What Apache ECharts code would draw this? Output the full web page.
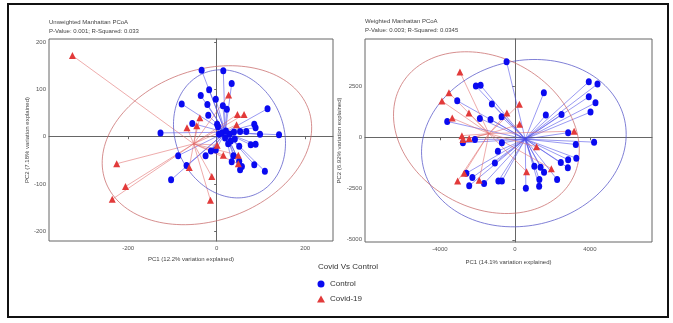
<!DOCTYPE html>
<html><head><meta charset="utf-8">
<script src="https://cdn.jsdelivr.net/npm/echarts@6/dist/echarts.min.js"></script>
<style>html,body{margin:0;padding:0;background:#fff}#c{width:673px;height:323px}</style>
</head><body><div id="c"></div>
<script>
// ---- tick labels ----
const leftXTicks = [-200, 0, 200];
const leftYTicks = [-200, -100, 0, 100, 200];
const rightXTicks = [-4000, 0, 4000];
const rightYTicks = [-5000, -2500, 0, 2500];

// ---- Unweighted Manhattan PCoA ----
const unwControlX = [-34,15,34,-17,-36,-2,-79,-21,14,23,115,-19,-55,1,3,85,88,-127,5,29,39,53,67,98,141,41,51,77,88,-2,-13,-25,-87,38,34,51,57,53,85,109,-68,-103,12,21,19,32,26];
const unwControlY = [140,139,112,99,87,79,69,68,65,58,59,45,28,26,21,26,19,8,5,5,10,11,11,5,4,-5,-20,-17,-16,-28,-30,-40,-40,-40,-53,-52,-63,-70,-59,-73,-61,-91,8,12,-3,-9,-15];
const unwCovidX = [-326,-226,-206,-236,27,47,62,45,-38,-67,-45,1,15,49,49,-62,-11,-14];
const unwCovidY = [171,-57,-105,-132,88,47,47,25,40,19,23,-18,-39,-39,-57,-65,-84,-134];
// ellipse: centre x, centre y, semi-axis a, semi-axis b, angle (deg)
const unwControlEllipse = [29, 6, 141, 120, -57];
const unwCovidEllipse = [-22, -18, 242, 160, 16];

// ---- Weighted Manhattan PCoA ----
const wControlX = [-443,-2080,-1829,3947,4411,1547,-3077,3947,4304,-1227,4037,2491,1653,-1867,-1296,-709,-3611,2843,-2133,-2773,-693,3253,4229,-907,-1067,3280,2843,2453,2827,1040,1371,1557,-2587,-2267,-2437,-1643,-880,-693,1307,2256,1296,587];
const wControlY = [3728,2534,2569,2746,2633,2205,1812,2009,1714,1650,1257,1144,1110,948,899,1027,801,250,-83,-250,-250,-329,-216,-658,-1233,-1002,-1076,-1213,-1469,-1395,-1444,-1690,-1739,-1950,-2353,-2245,-2117,-2117,-2048,-2048,-2377,-2475];
const wCovidX = [-2933,-3520,-3893,240,-2453,-3344,-427,251,-2827,-2773,-2437,3163,1157,1947,624,-2704,-3056,-1904];
const wCovidY = [3222,2205,1798,1640,1208,963,1208,658,103,-83,-34,324,-447,-1518,-1665,-1739,-2117,-2083];
const wControlEllipse = [480, -265, 5500, 4050, 10];
const wCovidEllipse = [-1520, 250, 5130, 3740, -22];

const BLUE = '#0a0af0', RED = '#e23a3a';
const FONT = 'Liberation Sans, Arial, sans-serif';

function pts(xs, ys) { return xs.map((x, i) => [x, ys[i]]); }
function centroid(xs, ys) {
  const n = xs.length;
  return [xs.reduce((s, v) => s + v, 0) / n, ys.reduce((s, v) => s + v, 0) / n];
}
function spokes(xs, ys) {
  const c = centroid(xs, ys);
  return pts(xs, ys).map(p => ({ coords: [c, p] }));
}
function ellipse(e) {
  const [cx, cy, a, b, deg] = e;
  const t0 = deg * Math.PI / 180, out = [];
  for (let i = 0; i <= 144; i++) {
    const t = i / 144 * 2 * Math.PI;
    out.push([cx + a * Math.cos(t) * Math.cos(t0) - b * Math.sin(t) * Math.sin(t0),
              cy + a * Math.cos(t) * Math.sin(t0) + b * Math.sin(t) * Math.cos(t0)]);
  }
  return out;
}
const plain = v => String(v);

function xAxis(idx, min, max, ticks, name, gap) {
  return {
    type: 'value', gridIndex: idx, min: min, max: max, name: name, nameLocation: 'middle', nameGap: gap,
    nameTextStyle: { fontSize: 6, color: '#444', fontFamily: FONT },
    axisLine: { show: true, lineStyle: { color: '#666', width: 1 } },
    axisTick: { show: true, length: 2.5, customValues: ticks, lineStyle: { color: '#666' } },
    axisLabel: { customValues: ticks, formatter: plain, fontSize: 6, color: '#555', margin: 4, fontFamily: FONT },
    splitLine: { show: false }
  };
}
function yAxis(idx, min, max, ticks, name, gap) {
  return {
    type: 'value', gridIndex: idx, min: min, max: max, name: name, nameLocation: 'middle', nameGap: gap,
    nameTextStyle: { fontSize: 6, color: '#444', fontFamily: FONT },
    axisLine: { show: true, lineStyle: { color: '#666', width: 1 } },
    axisTick: { show: true, length: 2.5, customValues: ticks, lineStyle: { color: '#666' } },
    axisLabel: { customValues: ticks, formatter: plain, fontSize: 6, color: '#555', margin: 3, fontFamily: FONT },
    splitLine: { show: false }
  };
}
function spokeSeries(idx, xs, ys, color) {
  return { type: 'lines', coordinateSystem: 'cartesian2d', xAxisIndex: idx, yAxisIndex: idx, silent: true, z: 1,
    lineStyle: { color: color, width: 0.8, opacity: 0.7 }, data: spokes(xs, ys) };
}
function ellSeries(idx, e, color) {
  return { type: 'line', xAxisIndex: idx, yAxisIndex: idx, silent: true, z: 2, showSymbol: false, symbol: 'none',
    lineStyle: { color: color, width: 1, opacity: 0.75 }, data: ellipse(e) };
}
function ptSeries(idx, name, xs, ys, color, symbol, size) {
  return { type: 'scatter', name: name, xAxisIndex: idx, yAxisIndex: idx, z: 3, symbol: symbol, symbolSize: size,
    itemStyle: { color: color, opacity: 1 }, data: pts(xs, ys) };
}

const titleStyle = { fontSize: 6, fontWeight: 'normal', color: '#444', fontFamily: FONT };
const option = {
  animation: false,
  backgroundColor: '#fff',
  title: [
    { left: 49, top: 19, padding: 0, itemGap: 3, text: 'Unweighted Manhattan PCoA', subtext: 'P-Value: 0.001; R-Squared: 0.033', textStyle: titleStyle, subtextStyle: titleStyle },
    { left: 365, top: 18, padding: 0, itemGap: 3, text: 'Weighted Manhattan PCoA', subtext: 'P-Value: 0.003; R-Squared: 0.0345', textStyle: titleStyle, subtextStyle: titleStyle },
    { left: 318, top: 263, padding: 0, text: 'Covid Vs Control', textStyle: { fontSize: 8, fontWeight: 'normal', color: '#333', fontFamily: FONT } }
  ],
  legend: {
    left: 317, top: 280, orient: 'vertical', padding: 0, itemWidth: 8, itemHeight: 7, itemGap: 7,
    textStyle: { fontSize: 8, color: '#333', fontFamily: FONT },
    data: [{ name: 'Control', icon: 'circle' }, { name: 'Covid-19', icon: 'triangle' }]
  },
  grid: [
    { left: 49, top: 39, width: 284, height: 202, show: true, borderColor: '#666', borderWidth: 1, backgroundColor: '#fff' },
    { left: 365, top: 39, width: 287, height: 203, show: true, borderColor: '#666', borderWidth: 1, backgroundColor: '#fff' }
  ],
  xAxis: [
    xAxis(0, -379, 263, leftXTicks, 'PC1 (12.2% variation explained)', 14),
    xAxis(1, -8000, 7320, rightXTicks, 'PC1 (14.1% variation explained)', 17)
  ],
  yAxis: [
    yAxis(0, -220, 206, leftYTicks, 'PC2 (7.18% variation explained)', 16),
    yAxis(1, -5110, 4840, rightYTicks, 'PC2 (6.92% variation explained)', 18)
  ],
  series: [
    spokeSeries(0, unwControlX, unwControlY, '#4a4ae8'),
    spokeSeries(0, unwCovidX, unwCovidY, '#e06a6a'),
    ellSeries(0, unwControlEllipse, '#5656c8'),
    ellSeries(0, unwCovidEllipse, '#c86a6a'),
    ptSeries(0, 'Control', unwControlX, unwControlY, BLUE, 'circle', [6, 7]),
    ptSeries(0, 'Covid-19', unwCovidX, unwCovidY, RED, 'triangle', [7, 7]),
    spokeSeries(1, wControlX, wControlY, '#4a4ae8'),
    spokeSeries(1, wCovidX, wCovidY, '#e06a6a'),
    ellSeries(1, wControlEllipse, '#5656c8'),
    ellSeries(1, wCovidEllipse, '#c86a6a'),
    ptSeries(1, 'Control', wControlX, wControlY, BLUE, 'circle', [6, 7]),
    ptSeries(1, 'Covid-19', wCovidX, wCovidY, RED, 'triangle', [7, 7])
  ],
  graphic: [
    { type: 'rect', z: 100, silent: true, shape: { x: 8, y: 4, width: 660, height: 313 },
      style: { fill: 'none', stroke: '#111', lineWidth: 2 } }
  ]
};
const chart = echarts.init(document.getElementById('c'), null, { renderer: 'canvas' });
chart.setOption(option);
</script>
</body></html>
